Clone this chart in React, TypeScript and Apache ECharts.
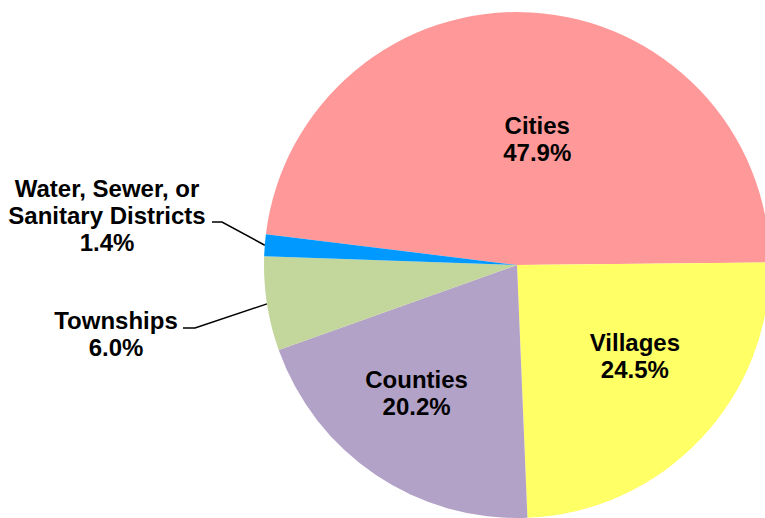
import React, { useEffect, useRef } from "react";
import * as echarts from "echarts";

const categories = ["Cities", "Villages", "Counties", "Townships", "Water, Sewer, or\nSanitary Districts"];
const shares = [47.9, 24.5, 20.2, 6.0, 1.4];
const colors = ["#FF9999", "#FFFF66", "#B3A2C7", "#C3D69B", "#0099FF"];

// label nudges (px) for inside labels, and label anchors for outside labels
const insideOffsets: Record<number, [number, number]> = {
  0: [13, 3],
  1: [24, 2],
  2: [-28, 21],
};
const outsideLabels: Record<number, { x: number; y: number; elbow: [number, number]; end: [number, number] }> = {
  3: { x: 116, y: 334, elbow: [195, 328], end: [183, 328] },
  4: { x: 107, y: 215, elbow: [222, 222], end: [212, 222] },
};

export default function App() {
  const ref = useRef<HTMLDivElement>(null);
  useEffect(() => {
    if (!ref.current) return;
    const chart = echarts.init(ref.current, undefined, { renderer: "svg" });
    const data = categories.map((name, i) => {
      const outside = outsideLabels[i] !== undefined;
      return {
        name,
        value: shares[i],
        itemStyle: { color: colors[i] },
        label: outside
          ? { position: "outside" as const }
          : { position: "inside" as const, offset: insideOffsets[i] },
        labelLine: { show: outside, lineStyle: { color: "#000", width: 1.5 } },
      };
    });
    chart.setOption({
      animation: false,
      backgroundColor: "#fff",
      series: [
        {
          type: "pie",
          center: [517, 265],
          radius: 253,
          startAngle: 173,
          clockwise: true,
          avoidLabelOverlap: false,
          data,
          label: {
            show: true,
            color: "#000",
            fontFamily: "'Liberation Sans', Arial, sans-serif",
            fontWeight: "bold",
            fontSize: 24,
            lineHeight: 27,
            align: "center",
            formatter: (p: any) => `${p.name}\n${Number(p.value).toFixed(1)}%`,
          },
          labelLine: { show: false },
          emphasis: { disabled: true },
          labelLayout: (params: any) => {
            const o = outsideLabels[params.dataIndex];
            if (!o) return {};
            const start = params.labelLinePoints && params.labelLinePoints[0];
            return {
              x: o.x,
              y: o.y,
              align: "center",
              verticalAlign: "middle",
              labelLinePoints: [start ? [start[0], start[1]] : o.elbow, o.elbow, o.end],
            };
          },
        },
      ],
    });
    return () => chart.dispose();
  }, []);
  return (
    <div
      ref={ref}
      style={{ position: "fixed", left: 0, top: 0, width: 765, height: 518 }}
    />
  );
}
